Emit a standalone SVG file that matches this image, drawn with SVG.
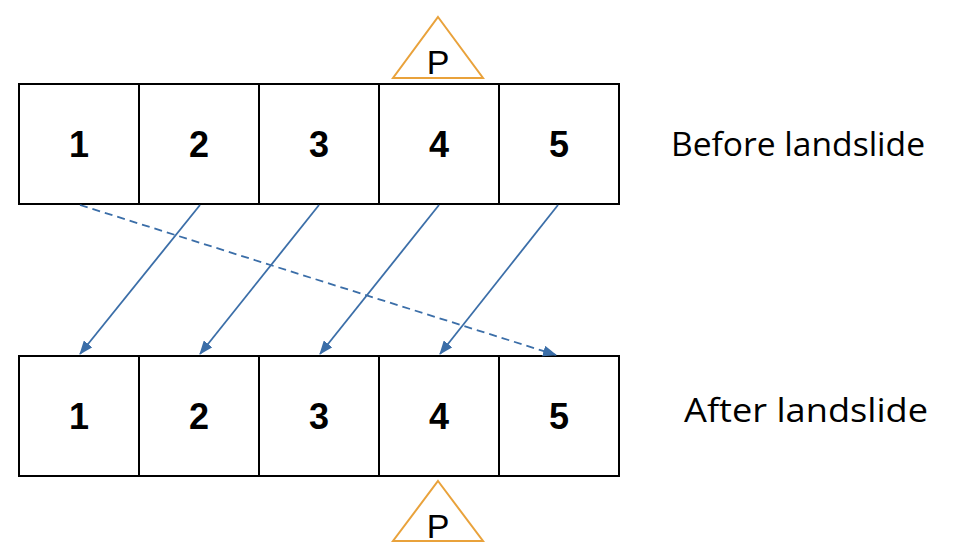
<svg xmlns="http://www.w3.org/2000/svg" width="956" height="560" viewBox="0 0 956 560">
<style>
.cell{fill:#fff;stroke:#000;stroke-width:2}
.num{font-family:"Liberation Sans",Arial,sans-serif;font-weight:bold;font-size:36px;text-anchor:middle}
.lbl{font-family:"Open Sans","Liberation Sans",sans-serif;font-size:32px}
.tri{fill:#fff;stroke:#E9A23B;stroke-width:2}
.p{font-family:"Liberation Sans",Arial,sans-serif;font-size:34px;text-anchor:middle}
.arr{stroke:#3B6EA8;stroke-width:1.8;fill:none;marker-end:url(#ah)}
.dash{stroke-dasharray:8 5}
</style>
<defs>
<marker id="ah" viewBox="0 0 14 11" refX="13" refY="5.5" markerWidth="14" markerHeight="11" markerUnits="userSpaceOnUse" orient="auto">
<path d="M0,0 L14,5.5 L0,11 z" fill="#3B6EA8"/>
</marker>
</defs>
<g id="before">
<g id="b1"><rect class="cell" x="19" y="84" width="120" height="120"/><text class="num" x="79" y="157">1</text></g>
<g id="b2"><rect class="cell" x="139" y="84" width="120" height="120"/><text class="num" x="199" y="157">2</text></g>
<g id="b3"><rect class="cell" x="259" y="84" width="120" height="120"/><text class="num" x="319" y="157">3</text></g>
<g id="b4"><rect class="cell" x="379" y="84" width="120" height="120"/><text class="num" x="439" y="157">4</text></g>
<g id="b5"><rect class="cell" x="499" y="84" width="120" height="120"/><text class="num" x="559" y="157">5</text></g>
</g>
<g id="after">
<g id="a1"><rect class="cell" x="19" y="356" width="120" height="120"/><text class="num" x="79" y="429">1</text></g>
<g id="a2"><rect class="cell" x="139" y="356" width="120" height="120"/><text class="num" x="199" y="429">2</text></g>
<g id="a3"><rect class="cell" x="259" y="356" width="120" height="120"/><text class="num" x="319" y="429">3</text></g>
<g id="a4"><rect class="cell" x="379" y="356" width="120" height="120"/><text class="num" x="439" y="429">4</text></g>
<g id="a5"><rect class="cell" x="499" y="356" width="120" height="120"/><text class="num" x="559" y="429">5</text></g>
</g>
<g id="p-top"><polygon class="tri" points="438,17 483,78 393,78"/><text class="p" x="438" y="74">P</text></g>
<g id="p-bottom"><polygon class="tri" points="438,481 483,541 393,541"/><text class="p" x="438" y="538">P</text></g>
<g id="label-before"><text class="lbl" x="671" y="156" textLength="254" lengthAdjust="spacingAndGlyphs">Before landslide</text></g>
<g id="label-after"><text class="lbl" x="684" y="422" textLength="244" lengthAdjust="spacingAndGlyphs">After landslide</text></g>
<g id="connectors">
<line class="arr" x1="200" y1="205" x2="80" y2="354"/>
<line class="arr" x1="319" y1="205" x2="200" y2="354"/>
<line class="arr" x1="439" y1="205" x2="320" y2="354"/>
<line class="arr" x1="558" y1="205" x2="440" y2="354"/>
<line class="arr dash" x1="80" y1="205" x2="556" y2="355"/>
</g>
</svg>
